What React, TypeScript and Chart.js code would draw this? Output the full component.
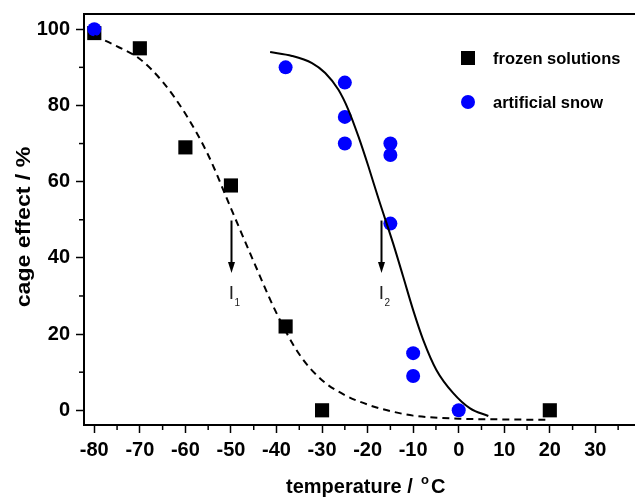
import { useEffect, useRef } from "react";
import { Chart, registerables } from "chart.js";

Chart.register(...registerables);

// ---- data ----
const frozenX = [-80, -70, -60, -50, -38, -30, 20];
const frozenY = [99, 95, 69, 59, 22, 0, 0];

const snowX = [-80, -38, -25, -25, -25, -15, -15, -15, -10, -10, 0];
const snowY = [100, 90, 86, 77, 70, 70, 67, 49, 15, 9, 0];

// fitted curves
const frozenFitX = [-80, -75, -70, -65, -60, -55, -50, -45, -40, -35, -30, -25, -20, -15, -10, 0, 10, 20];
const frozenFitY = [98.3, 95.5, 92.2, 86.2, 77.8, 67.0, 53.0, 39.0, 25.5, 14.7, 7.9, 4.0, 1.5, -0.2, -1.4, -2.2, -2.4, -2.5];

const snowFitX = [-41.4, -36.6, -32.2, -29.3, -26.4, -24.2, -22, -19.8, -17.6, -14.4, -12.2, -10, -7.8, -4.9, -1.2, 2.5, 6.5];
const snowFitY = [94.0, 93.0, 91.1, 88.5, 84.1, 78.8, 71.8, 63.9, 55.5, 43.8, 35.1, 26.3, 18.5, 10.6, 4.5, 0.5, -1.5];

const seriesLabels = ["frozen solutions", "artificial snow"];

// axis
const X_MIN = -82.26;
const X_MAX = 39.14;
const Y_MIN = -3.86;
const Y_MAX = 104;
const xMinor = [-75, -65, -55, -45, -35, -25, -15, -5, 5, 15, 25, 35];
const yMinor = [10, 30, 50, 70, 90];

// arrow annotations
const arrowX = [-50, -17];
const arrowFromY = 49.8;
const arrowToY = 36;
const arrowSubs = ["1", "2"];

const FONT = "'Liberation Sans', Arial, sans-serif";

const toPts = (xs: number[], ys: number[]) => xs.map((x, i) => ({ x, y: ys[i] }));

const framePlugin = {
  id: "frame",
  afterDatasetsDraw(chart: any) {
    const { ctx, chartArea: a, scales } = chart;
    const x = scales.x;
    const y = scales.y;
    ctx.save();
    ctx.strokeStyle = "#000";
    ctx.lineWidth = 2;
    ctx.strokeRect(a.left, a.top, a.right - a.left, a.bottom - a.top);
    ctx.lineWidth = 1.5;
    xMinor.forEach((v) => {
      const px = x.getPixelForValue(v);
      ctx.beginPath();
      ctx.moveTo(px, a.bottom);
      ctx.lineTo(px, a.bottom + 5);
      ctx.stroke();
    });
    yMinor.forEach((v) => {
      const py = y.getPixelForValue(v);
      ctx.beginPath();
      ctx.moveTo(a.left, py);
      ctx.lineTo(a.left - 5, py);
      ctx.stroke();
    });
    // tick labels (values from the scales' own ticks)
    ctx.fillStyle = "#000";
    ctx.font = `bold 20px ${FONT}`;
    ctx.textBaseline = "middle";
    ctx.textAlign = "center";
    x.ticks.forEach((t: any) => {
      ctx.fillText(String(t.value), x.getPixelForValue(t.value), a.bottom + 25);
    });
    ctx.textAlign = "right";
    y.ticks.forEach((t: any) => {
      ctx.fillText(String(t.value), a.left - 14, y.getPixelForValue(t.value));
    });
    ctx.restore();
  },
};

const annotationPlugin = {
  id: "annots",
  afterDatasetsDraw(chart: any) {
    const { ctx, scales } = chart;
    const x = scales.x;
    const y = scales.y;
    ctx.save();
    arrowX.forEach((v, i) => {
      const px = Math.round(x.getPixelForValue(v)) + 0.5;
      const y0 = y.getPixelForValue(arrowFromY);
      const y1 = y.getPixelForValue(arrowToY);
      ctx.strokeStyle = "#000";
      ctx.fillStyle = "#000";
      ctx.lineWidth = 2;
      ctx.beginPath();
      ctx.moveTo(px, y0);
      ctx.lineTo(px, y1 - 8);
      ctx.stroke();
      ctx.beginPath();
      ctx.moveTo(px - 3.5, y1 - 11);
      ctx.lineTo(px + 3.5, y1 - 11);
      ctx.lineTo(px, y1);
      ctx.closePath();
      ctx.fill();
      ctx.fillStyle = "#222";
      ctx.font = `19px ${FONT}`;
      ctx.textAlign = "center";
      ctx.textBaseline = "alphabetic";
      ctx.fillText("I", px, y1 + 26);
      ctx.font = `10px ${FONT}`;
      ctx.textAlign = "left";
      ctx.fillText(arrowSubs[i], px + 3, y1 + 33);
    });
    ctx.restore();
  },
};

const legendPlugin = {
  id: "customLegend",
  afterDraw(chart: any) {
    const { ctx } = chart;
    ctx.save();
    const sets = chart.data.datasets
      .filter((d: any) => d.legendIndex !== undefined)
      .sort((a: any, b: any) => a.legendIndex - b.legendIndex);
    sets.forEach((d: any, i: number) => {
      const cy = 58 + i * 44;
      const cx = 468;
      ctx.fillStyle = d.backgroundColor;
      if (d.pointStyle === "rect") {
        ctx.fillRect(cx - 7, cy - 7, 14, 14);
      } else {
        ctx.beginPath();
        ctx.arc(cx, cy, 7, 0, Math.PI * 2);
        ctx.fill();
      }
      ctx.fillStyle = "#000";
      ctx.font = `bold 16.5px ${FONT}`;
      ctx.textAlign = "left";
      ctx.textBaseline = "middle";
      ctx.fillText(d.label, 493, cy + 1);
    });
    ctx.restore();
  },
};

const titlesPlugin = {
  id: "titles",
  afterDraw(chart: any) {
    const { ctx } = chart;
    ctx.save();
    ctx.fillStyle = "#000";
    ctx.font = `bold 21px ${FONT}`;
    ctx.translate(24, 227);
    ctx.rotate(-Math.PI / 2);
    ctx.scale(1.1, 1);
    ctx.textAlign = "center";
    ctx.textBaseline = "middle";
    ctx.fillText("cage effect / %", 0, 0);
    ctx.restore();

    ctx.save();
    ctx.fillStyle = "#000";
    ctx.textBaseline = "alphabetic";
    ctx.textAlign = "left";
    const base = 493;
    ctx.font = `bold 20px ${FONT}`;
    ctx.fillText("temperature /", 286, base);
    ctx.font = `bold 13px ${FONT}`;
    ctx.fillText("o", 421, base - 9);
    ctx.font = `bold 20px ${FONT}`;
    ctx.fillText("C", 431, base);
    ctx.restore();
  },
};

export default function App() {
  const ref = useRef<HTMLCanvasElement>(null);

  useEffect(() => {
    if (!ref.current) return;
    const chart = new Chart(ref.current, {
      type: "scatter",
      data: {
        datasets: [
          {
            label: "frozen fit",
            data: toPts(frozenFitX, frozenFitY),
            showLine: true,
            borderColor: "#000",
            borderWidth: 2,
            borderDash: [7, 5],
            pointRadius: 0,
            cubicInterpolationMode: "monotone",
            fill: false,
            order: 0,
          } as any,
          {
            label: "snow fit",
            data: toPts(snowFitX, snowFitY),
            showLine: true,
            borderColor: "#000",
            borderWidth: 2,
            pointRadius: 0,
            cubicInterpolationMode: "monotone",
            fill: false,
            order: 0,
          } as any,
          {
            label: seriesLabels[1],
            legendIndex: 1,
            data: toPts(snowX, snowY),
            pointStyle: "circle",
            pointRadius: 7,
            backgroundColor: "#0000ff",
            borderColor: "#0000ff",
            borderWidth: 0,
            order: 1,
          } as any,
          {
            label: seriesLabels[0],
            legendIndex: 0,
            data: toPts(frozenX, frozenY),
            pointStyle: "rect",
            pointRadius: 10,
            backgroundColor: "#000",
            borderColor: "#000",
            borderWidth: 0,
            order: 2,
          } as any,
        ],
      },
      options: {
        animation: false,
        responsive: false,
        events: [],
        layout: { autoPadding: false, padding: { top: 14, right: 1, left: 0, bottom: 0 } },
        plugins: {
          legend: { display: false },
          tooltip: { enabled: false },
        },
        scales: {
          x: {
            type: "linear",
            min: X_MIN,
            max: X_MAX,
            afterFit: (s: any) => {
              s.height = 73;
              s.paddingLeft = 0;
              s.paddingRight = 0;
            },
            border: { display: false },
            grid: {
              display: true,
              drawOnChartArea: false,
              drawTicks: true,
              tickLength: 8,
              tickWidth: 1.5,
              tickColor: "#000",
            },
            ticks: {
              display: false,
              stepSize: 10,
              includeBounds: false,
              autoSkip: false,
            },
          },
          y: {
            type: "linear",
            min: Y_MIN,
            max: Y_MAX,
            afterFit: (s: any) => {
              s.width = 84;
              s.paddingTop = 0;
              s.paddingBottom = 0;
            },
            border: { display: false },
            grid: {
              display: true,
              drawOnChartArea: false,
              drawTicks: true,
              tickLength: 8,
              tickWidth: 1.5,
              tickColor: "#000",
            },
            ticks: {
              display: false,
              stepSize: 20,
              includeBounds: false,
            },
          },
        },
      },
      plugins: [framePlugin, annotationPlugin, legendPlugin, titlesPlugin],
    });
    return () => chart.destroy();
  }, []);

  return (
    <div
      style={{
        position: "absolute",
        left: 0,
        top: 0,
        width: 635,
        height: 498,
        overflow: "hidden",
        background: "#fff",
      }}
    >
      <canvas ref={ref} width={638} height={498} style={{ display: "block" }} />
    </div>
  );
}
